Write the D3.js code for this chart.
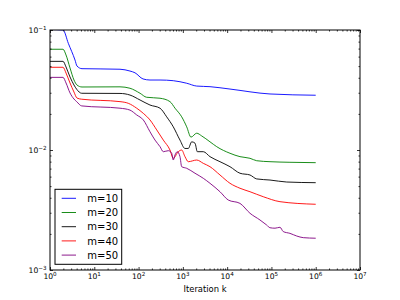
<!DOCTYPE html>
<html>
<head>
<meta charset="utf-8">
<script src="https://cdn.jsdelivr.net/npm/d3@7"></script>
<style>
  body { margin: 0; background: #fff; }
  svg { display: block; }
  text { font-family: "DejaVu Sans", sans-serif; fill: #000; }
</style>
</head>
<body>
<svg id="chart" width="400" height="300"></svg>
<script>
var seriesNames = ['m=10', 'm=20', 'm=30', 'm=40', 'm=50'];
var seriesColors = ['#0000ff', '#008000', '#000000', '#ff0000', '#800080'];

// iteration k / error
var iter10 = [1, 1.97, 2.59, 3.67, 4.07, 5.28, 13.5, 38.1, 64, 83, 126, 181, 305, 608, 1221, 2054, 4101, 11600, 92900, 1e6];
var err10  = [0.101, 0.1, 0.0775, 0.0562, 0.0501, 0.0476, 0.0474, 0.0471, 0.0455, 0.0440, 0.0391, 0.0383, 0.0383, 0.0378, 0.0360, 0.0341, 0.0337, 0.0322, 0.0293, 0.0286];

var iter20 = [1, 1.97, 2.30, 2.83, 3.48, 4.07, 5.28, 38.1, 64, 108, 152, 305, 512, 665, 941, 1221, 1527, 2054, 2663, 4101, 5808, 11600, 19500, 32800, 46500, 92900, 262000, 1e6];
var err20  = [0.0691, 0.0691, 0.0619, 0.0483, 0.0383, 0.0348, 0.0335, 0.0336, 0.0327, 0.0297, 0.0275, 0.0270, 0.0253, 0.0223, 0.0189, 0.0156, 0.0128, 0.0138, 0.0131, 0.0117, 0.01066, 0.00939, 0.0088, 0.00853, 0.00814, 0.00799, 0.0079, 0.00784];

var iter30 = [1, 1.97, 2.30, 2.83, 3.48, 4.0, 5.2, 38.1, 64, 108, 181, 305, 431, 608, 861, 1117, 1327, 1584, 1881, 2120, 2896, 4101, 6897, 11600, 19500, 32800, 46500, 92900, 221000, 1e6];
var err30  = [0.0548, 0.0548, 0.0492, 0.0406, 0.0348, 0.0321, 0.0297, 0.0296, 0.0287, 0.0261, 0.0237, 0.0223, 0.0189, 0.0156, 0.0121, 0.0103, 0.0103, 0.0117, 0.0114, 0.00968, 0.00968, 0.0088, 0.00799, 0.00726, 0.0064, 0.00619, 0.00574, 0.00562, 0.00541, 0.00534];

var iter40 = [1, 1.97, 2.30, 2.83, 3.48, 4.07, 5.2, 38.1, 58.6, 90.7, 128, 181, 257, 362, 512, 608, 789, 941, 1117, 1327, 2054, 2896, 4101, 6897, 11600, 19500, 32800, 65500, 156000, 1e6];
var err40  = [0.0489, 0.0489, 0.0438, 0.0362, 0.0304, 0.0271, 0.0265, 0.0253, 0.0245, 0.0223, 0.0202, 0.0178, 0.0147, 0.0121, 0.0100, 0.00853, 0.00968, 0.0100, 0.0088, 0.00799, 0.00825, 0.00774, 0.00726, 0.00619, 0.00528, 0.0048, 0.00449, 0.00408, 0.00371, 0.00353];

var iter50 = [1, 1.97, 2.30, 2.83, 3.48, 4.0, 5.2, 38.1, 64, 90.7, 128, 181, 235, 305, 362, 469, 560, 608, 665, 749, 861, 941, 1221, 1881, 2896, 4101, 6897, 10600, 19500, 32800, 55200, 78100, 92900, 120500, 156000, 185000, 262000, 372000, 525000, 1e6];
var err50  = [0.0403, 0.0403, 0.0362, 0.0299, 0.0266, 0.0253, 0.0233, 0.0223, 0.0215, 0.0196, 0.0178, 0.0142, 0.0121, 0.01066, 0.00968, 0.00987, 0.00939, 0.00825, 0.00909, 0.00968, 0.0088, 0.00726, 0.00704, 0.0064, 0.00581, 0.00528, 0.00449, 0.00383, 0.00359, 0.00297, 0.00261, 0.00237, 0.00225, 0.00223, 0.00227, 0.00209, 0.00202, 0.00192, 0.00186, 0.00184];

var xTickExps = [0, 1, 2, 3, 4, 5, 6, 7];
var yTickExps = [-3, -2, -1];
var xLabel = 'Iteration k';

var iters = [iter10, iter20, iter30, iter40, iter50];
var errs = [err10, err20, err30, err40, err50];

var svg = d3.select('#chart');
var margin = {top: 30, right: 40, bottom: 30, left: 50};
var width = 400 - margin.left - margin.right;
var height = 300 - margin.top - margin.bottom;

var x = d3.scaleLog().domain([1, 1e7]).range([0, width]);
var y = d3.scaleLog().domain([1e-3, 1e-1]).range([height, 0]);

var g = svg.append('g').attr('transform', 'translate(' + margin.left + ',' + margin.top + ')');

g.append('clipPath').attr('id', 'plotclip')
  .append('rect').attr('width', width).attr('height', height);

var line = d3.line()
  .x(function(d){ return x(d[0]); })
  .y(function(d){ return y(d[1]); })
  .curve(d3.curveMonotoneX);

g.append('g').attr('clip-path', 'url(#plotclip)')
  .selectAll('path')
  .data(iters)
  .enter().append('path')
    .attr('fill', 'none')
    .attr('stroke', function(d, i){ return seriesColors[i]; })
    .attr('stroke-width', 0.9)
    .attr('d', function(ks, i){
      return line(ks.map(function(k, j){ return [k, errs[i][j]]; }));
    });

// ticks: majors at decades, minors at 2..9
function minorsOf(exps){
  var out = [];
  exps.slice(0, -1).forEach(function(e){
    for (var m = 2; m <= 9; m++) out.push(m * Math.pow(10, e));
  });
  return out;
}
var xMajor = xTickExps.map(function(e){ return Math.pow(10, e); });
var yMajor = yTickExps.map(function(e){ return Math.pow(10, e); });
var xMinor = minorsOf(xTickExps);
var yMinor = minorsOf(yTickExps);

function tickLayer(axis, values, size, transform){
  var a = g.append('g').attr('transform', transform || null)
    .call(axis.tickValues(values).tickSize(size).tickFormat(''));
  a.select('.domain').remove();
  a.selectAll('line').attr('stroke', '#000').attr('stroke-width', 0.8);
}
tickLayer(d3.axisBottom(x), xMajor, -3, 'translate(0,' + height + ')');
tickLayer(d3.axisBottom(x), xMinor, -1.5, 'translate(0,' + height + ')');
tickLayer(d3.axisTop(x), xMajor, -3);
tickLayer(d3.axisTop(x), xMinor, -1.5);
tickLayer(d3.axisLeft(y), yMajor, -3);
tickLayer(d3.axisLeft(y), yMinor, -1.5);
tickLayer(d3.axisRight(y), yMajor, -3, 'translate(' + width + ',0)');
tickLayer(d3.axisRight(y), yMinor, -1.5, 'translate(' + width + ',0)');

g.append('rect')
  .attr('width', width).attr('height', height)
  .attr('fill', 'none').attr('stroke', '#000').attr('stroke-width', 1);

function powerLabel(sel){
  sel.append('tspan').text('10');
  sel.append('tspan').attr('dy', -3.2).attr('font-size', 5.6)
    .text(function(e){ return String(e).replace('-', '\u2212'); });
}

g.selectAll('.xlab').data(xTickExps).enter().append('text')
  .attr('class', 'xlab')
  .attr('x', function(e){ return x(Math.pow(10, e)); })
  .attr('y', height + 9.2)
  .attr('text-anchor', 'middle')
  .attr('font-size', 7.6)
  .call(powerLabel);

g.selectAll('.ylab').data(yTickExps).enter().append('text')
  .attr('class', 'ylab')
  .attr('x', -3.5)
  .attr('y', function(e){ return y(Math.pow(10, e)) + 3; })
  .attr('text-anchor', 'end')
  .attr('font-size', 7.6)
  .call(powerLabel);

g.append('text')
  .attr('x', width / 2)
  .attr('y', height + 21.5)
  .attr('text-anchor', 'middle')
  .attr('font-size', 8.4)
  .text(xLabel);

// legend, lower left
var legend = g.append('g').attr('transform', 'translate(5,159.3)');
legend.append('rect')
  .attr('width', 66.7).attr('height', 75)
  .attr('fill', '#fff').attr('stroke', '#000').attr('stroke-width', 1);
var rows = legend.selectAll('.row').data(seriesNames).enter().append('g')
  .attr('class', 'row')
  .attr('transform', function(d, i){ return 'translate(0,' + (9 + i * 14.2) + ')'; });
rows.append('line')
  .attr('x1', 6.7).attr('x2', 21)
  .attr('stroke', function(d, i){ return seriesColors[i]; })
  .attr('stroke-width', 0.9);
rows.append('text')
  .attr('x', 32.3).attr('y', 3.6)
  .attr('font-size', 10)
  .text(function(d){ return d; });
</script>
</body>
</html>
